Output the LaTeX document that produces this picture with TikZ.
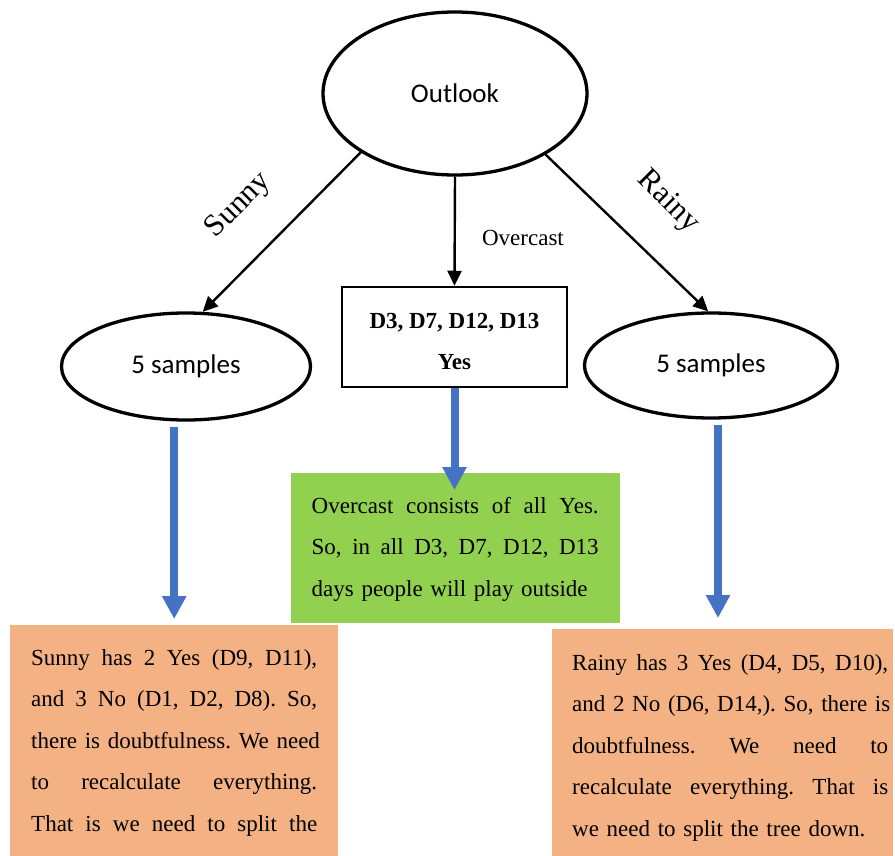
\documentclass[tikz,border=0pt]{standalone}
\usepackage{fontspec}
\setmainfont{Liberation Serif}
\newfontfamily\calib{Carlito}
\usetikzlibrary{shapes.geometric,arrows.meta,calc}
\definecolor{bblue}{HTML}{4472C4}
\definecolor{ggreen}{HTML}{92D050}
\definecolor{oorange}{HTML}{F4B183}
\newcommand\jline[2]{\leavevmode\hbox to #1{#2}}
\def\gap{\hfill\ }
\frenchspacing
\begin{document}
\begin{tikzpicture}[x=1pt,y=-1pt,
  ell/.style={ellipse, draw, line width=3.3pt, inner sep=0pt, font=\calib\fontsize{27}{32}\selectfont},
  arr/.style={line width=2.4pt, -{Triangle[length=15pt,width=14pt]}},
  barr/.style={line width=8pt, draw=bblue, -{Triangle[length=23pt,width=23pt]}},
  lbl/.style={inner sep=0pt, font=\fontsize{31}{34}\selectfont},
  fillbox/.style={inner sep=0pt, anchor=north west},
  btext/.style={inner sep=0pt, anchor=base west, align=left, font=\frenchspacing\fontsize{23}{41.5}\selectfont},
  ]
\useasboundingbox (0,0) rectangle (895,856);

% top-level nodes
\node[ell, minimum width=264pt, minimum height=163pt] (outlook) at (455,93.5) {Outlook};
\node[ell, minimum width=249pt, minimum height=107pt] (sunny) at (186,366.5) {5 samples};
\node[ell, minimum width=253pt, minimum height=105pt] (rainy) at (711,365.5) {5 samples};
\node[draw, line width=2.5pt, minimum width=225pt, minimum height=100pt, inner sep=0pt,
      align=center, font=\bfseries\fontsize{23}{41}\selectfont] (over) at (454.5,337) {\rule{0pt}{24pt}D3, D7, D12, D13\\Yes};

% connectors
\draw[arr] (outlook.212) -- (sunny.73);
\draw[arr] (outlook.south) -- (over.north);
\draw[arr] (outlook.326) -- (rainy.93);

% labels
\node[lbl, rotate=45] (lsunny) at (239,206) {Sunny};
\node[lbl, rotate=-45] (lrainy) at (668,202) {Rainy};
\node[inner sep=0pt, font=\fontsize{23}{26}\selectfont] (lover) at (523,238) {Overcast};

% coloured boxes
\node[fillbox, fill=ggreen, minimum width=329pt, minimum height=150pt] (gbox) at (291,473) {};
\node[fillbox, fill=oorange, minimum width=328pt, minimum height=231pt] (sbox) at (10,625) {};
\node[fillbox, fill=oorange, minimum width=341pt, minimum height=227pt] (rbox) at (552,629) {};

% blue arrows
\draw[barr] ($(sunny.south -| sbox.north)+(0,5)$) -- ($(sbox.north)+(0,-6)$);
\draw[barr] (over.south) -- ($(over.south |- gbox.north)+(0,17)$);
\draw[barr] ($(rainy.south)+(7,5)$) -- ($(rainy.south |- rbox.north)+(7,-11)$);

% texts
\node[btext, text width=287pt] (gtext) at (311.5,513) {\jline{287pt}{Overcast\gap consists\gap of\gap all\gap Yes.}\\
\jline{287pt}{So,\gap in\gap all\gap D3,\gap D7,\gap D12,\gap D13}\\
days people will play outside};

\node[btext, text width=286pt] (stext) at (31,665) {\jline{286pt}{Sunny\gap has\gap 2\gap Yes\gap (D9,\gap D11),}\\
\jline{286pt}{and\gap 3\gap No\gap (D1,\gap D2,\gap D8).\gap So,}\\
\jline{286pt}{there\gap is\gap doubtfulness.\gap We\gap need}\\
\jline{286pt}{to\gap recalculate\gap everything.}\\
\jline{286pt}{That\gap is\gap we\gap need\gap to\gap split\gap the}};

\node[btext, text width=316pt] (rtext) at (572,670) {\jline{316pt}{Rainy\gap has\gap 3\gap Yes\gap (D4,\gap D5,\gap D10),}\\
\jline{316pt}{and\gap 2\gap No\gap (D6,\gap D14,).\gap So,\gap there\gap is}\\
\jline{316pt}{doubtfulness.\gap We\gap need\gap to}\\
\jline{316pt}{recalculate\gap everything.\gap That\gap is}\\
we need to split the tree down.};
\end{tikzpicture}
\end{document}
